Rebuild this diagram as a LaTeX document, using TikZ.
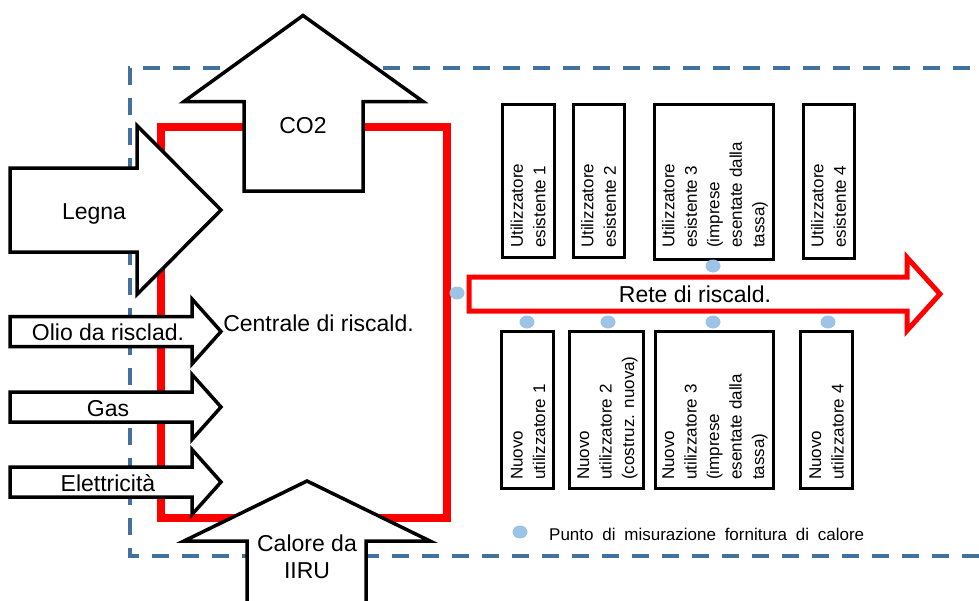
\documentclass[tikz,border=0pt]{standalone}
\usepackage{fontspec}
\setmainfont{Liberation Sans}
\definecolor{dashblue}{RGB}{65,113,156}
\definecolor{dotblue}{RGB}{157,195,230}
\tikzset{
  blockarrow/.style={draw=black, line width=3.5pt, fill=white, line join=miter},
  netarrow/.style={draw=red, line width=5pt, fill=white, line join=miter},
  plantbox/.style={draw=red, line width=8pt},
  boundary/.style={draw=dashblue, line width=3.5pt, dash pattern=on 17pt off 13pt},
  userbox/.style={draw=black, line width=3pt},
  meter/.style={fill=dotblue},
  biglabel/.style={font=\fontsize{23}{26}\selectfont, inner sep=0pt, anchor=base},
  boxtext/.style={font=\fontsize{17}{22.5}\selectfont, rotate=90, anchor=west, align=left, inner sep=0pt},
}
\begin{document}
\begin{tikzpicture}[x=1pt,y=-1pt]
\clip (0,0) rectangle (979,600);
\fill[white] (0,0) rectangle (979,600);
% system boundary
\draw[boundary] (1000,68) -- (130,68) -- (130,556) -- (1000,556);
% heating plant
\draw[plantbox] (161,127) rectangle (447,518);
% network arrow
\draw[netarrow] (469,277) -- (907,277) -- (907,257.5) -- (940,294) -- (907,330.5) -- (907,311) -- (469,311) -- cycle;
\node[biglabel] (rete) at (695,302.3) {Rete di riscald.};
% users
\draw[userbox] (502,104) rectangle (554,257);
\draw[userbox] (573,104) rectangle (624,257);
\draw[userbox] (654,104) rectangle (773,259);
\draw[userbox] (803,104) rectangle (854,258);
\node[boxtext] (u1) at (528,248) {Utilizzatore\\esistente 1};
\node[boxtext] (u2) at (598.5,248) {Utilizzatore\\esistente 2};
\node[boxtext] (u3) at (715,248) {Utilizzatore\\esistente 3\\(imprese\\esentate dalla\\tassa)};
\node[boxtext] (u4) at (828.5,248) {Utilizzatore\\esistente 4};
\draw[userbox] (501,331) rectangle (553,488);
\draw[userbox] (569,331) rectangle (643,488);
\draw[userbox] (655,331) rectangle (773,488);
\draw[userbox] (800,331) rectangle (852,488);
\node[boxtext] (n1) at (528,480) {Nuovo\\utilizzatore 1};
\node[boxtext] (n2) at (607.5,480) {Nuovo\\utilizzatore 2\\(costruz. nuova)};
\node[boxtext] (n3) at (715,480) {Nuovo\\utilizzatore 3\\(imprese\\esentate dalla\\tassa)};
\node[boxtext] (n4) at (826.5,480) {Nuovo\\utilizzatore 4};
% metering points
\fill[meter] (457,293) ellipse [x radius=7.5, y radius=6.5];
\fill[meter] (713,266) ellipse [x radius=7.5, y radius=6.5];
\fill[meter] (527,322) ellipse [x radius=7.5, y radius=6.5];
\fill[meter] (608,322) ellipse [x radius=7.5, y radius=6.5];
\fill[meter] (713,322) ellipse [x radius=7.5, y radius=6.5];
\fill[meter] (828,322) ellipse [x radius=7.5, y radius=6.5];
\fill[meter] (520,532) ellipse [x radius=7.5, y radius=6.5];
\node[anchor=base west, inner sep=0pt, font=\fontsize{17}{20}\selectfont] (legend) at (549,540) {\makebox[315pt][s]{Punto di misurazione fornitura di calore}};
% input arrows
\draw[blockarrow] (10,168) -- (137,168) -- (137,125.5) -- (221,210) -- (137,294.5) -- (137,252) -- (10,252) -- cycle;
\node[biglabel] (legna) at (94,219) {Legna};
\draw[blockarrow] (10,316.5) -- (192,316.5) -- (192,299) -- (221,331.5) -- (192,364) -- (192,346.5) -- (10,346.5) -- cycle;
\node[biglabel] (olio) at (108,340) {Olio da risclad.};
\draw[blockarrow] (10,392) -- (192,392) -- (192,374.5) -- (221,407) -- (192,439.5) -- (192,422) -- (10,422) -- cycle;
\node[biglabel] (gas) at (108,416) {Gas};
\draw[blockarrow] (10,467) -- (192,467) -- (192,449.5) -- (221,482) -- (192,514.5) -- (192,497) -- (10,497) -- cycle;
\node[biglabel] (elet) at (108,491) {Elettricità};
% CO2 arrow
\draw[blockarrow] (244,191) -- (244,101.5) -- (184,101.5) -- (303,15.5) -- (423,101.5) -- (363,101.5) -- (363,191) -- cycle;
\node[biglabel] (co2) at (303,133.3) {CO2};
% IIRU arrow
\draw[blockarrow] (247,620) -- (247,541) -- (184,541) -- (307,481) -- (430,541) -- (366,541) -- (366,620) -- cycle;
\node[biglabel] (calore) at (307,551.7) {Calore da};
\node[biglabel] (iiru) at (307,578) {IIRU};
% plant label
\node[biglabel] (centrale) at (318.5,331.7) {Centrale di riscald.};
\end{tikzpicture}
\end{document}
